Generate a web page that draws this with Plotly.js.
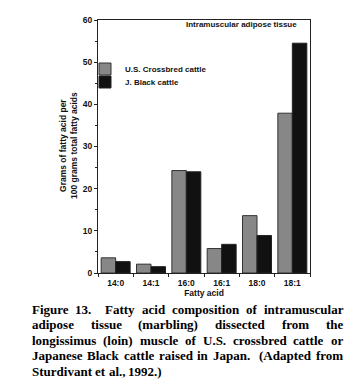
<!DOCTYPE html>
<html>
<head>
<meta charset="utf-8">
<script src="https://cdn.plot.ly/plotly-3.0.1.min.js"></script>
<style>html,body{margin:0;padding:0;background:#fff;}#chart{width:351px;height:390px;}</style>
</head>
<body>
<div id="chart"></div>
<script>
var categories = ["14:0", "14:1", "16:0", "16:1", "18:0", "18:1"];
var usCrossbred = [3.6, 2.1, 24.3, 5.8, 13.6, 37.9];
var jBlack = [2.7, 1.5, 24.0, 6.8, 8.9, 54.5];
var seriesNames = ["U.S. Crossbred cattle", "J. Black cattle"];
var yTicks = [0, 10, 20, 30, 40, 50, 60];
var panelLabel = "Intramuscular adipose tissue";
var yTitle = "Grams of fatty acid per<br>100 grams total fatty acids";
var xTitle = "Fatty acid";
var captionLines = [
  "Figure 13.  Fatty acid composition of intramuscular",
  "adipose tissue (marbling) dissected from the",
  "longissimus (loin) muscle of U.S. crossbred cattle or",
  "Japanese Black cattle raised in Japan.  (Adapted from",
  "Sturdivant et al., 1992.)"
];

var W = 351, H = 390;
var L = 98, R = 41, T = 20, B = 117;
var pw = W - L - R, ph = H - T - B;
function px2x(p) { return (p - L) / pw; }
function py2y(p) { return (H - B - p) / ph; }

var sans = "Liberation Sans, Arial, sans-serif";
var tf = {family: sans, size: 8.5, color: "#111", weight: "bold"};
var lf = {family: sans, size: 8, color: "#111", weight: "bold"};

var traces = [
  {type: "bar", name: seriesNames[0], x: categories, y: usCrossbred, legend: "legend",
   marker: {color: "#878787", line: {color: "#333", width: 1}}},
  {type: "bar", name: seriesNames[1], x: categories, y: jBlack, legend: "legend2",
   marker: {color: "#111111", line: {color: "#222", width: 1}}}
];

var annotations = [
  {xref: "paper", yref: "paper", x: px2x(298), y: py2y(24), xanchor: "right", yanchor: "middle",
   text: panelLabel, showarrow: false, font: lf, borderpad: 0},
  {xref: "paper", yref: "paper", x: px2x(68), y: py2y(146), xanchor: "center", yanchor: "middle",
   text: yTitle, textangle: -90, showarrow: false, font: tf, borderpad: 0}
];

// justified caption, word by word
var serifFamily = "Liberation Serif";
var capSize = 13;
var ctx = document.createElement("canvas").getContext("2d");
ctx.font = "bold " + capSize + "px '" + serifFamily + "'";
var capLeft = 31, capRight = 342;
var lineY = [309, 324.5, 340, 355.5, 371];
captionLines.forEach(function (line, i) {
  var toks = line.split(" ");
  var widths = toks.map(function (t) { return t ? ctx.measureText(t).width : 0; });
  var total = widths.reduce(function (a, b) { return a + b; }, 0);
  var last = i === captionLines.length - 1;
  var gap = last ? ctx.measureText(" ").width : (capRight - capLeft - total) / (toks.length - 1);
  var xpos = capLeft;
  toks.forEach(function (t, k) {
    if (t) {
      annotations.push({xref: "paper", yref: "paper", x: px2x(xpos), y: py2y(lineY[i]),
        xanchor: "left", yanchor: "middle", text: t, showarrow: false, borderpad: 0,
        font: {family: serifFamily + ", Times New Roman, serif", size: capSize, color: "#000", weight: "bold"}});
    }
    xpos += widths[k] + gap;
  });
});

var legBase = {xanchor: "left", yanchor: "middle", font: lf, bgcolor: "rgba(0,0,0,0)", itemwidth: 30};
var layout = {
  width: W, height: H,
  margin: {l: L, r: R, t: T, b: B, pad: 0},
  paper_bgcolor: "#fff", plot_bgcolor: "#fff",
  barmode: "group", bargap: 0.18, bargroupgap: 0,
  showlegend: true,
  legend: Object.assign({x: px2x(85), y: py2y(69)}, legBase),
  legend2: Object.assign({x: px2x(85), y: py2y(82)}, legBase),
  xaxis: {type: "category", range: [-0.5, 5.5], showline: true, linecolor: "#222", linewidth: 1,
          mirror: true, ticks: "outside", tickson: "boundaries", ticklen: 3, tickcolor: "#222",
          tickfont: tf, ticklabelstandoff: 2, showgrid: false, zeroline: false, fixedrange: true,
          title: {text: xTitle, font: tf, standoff: 2}},
  yaxis: {range: [0, 60], tickvals: yTicks, showline: true, linecolor: "#222", linewidth: 1,
          mirror: true, ticks: "outside", ticklen: 3, tickcolor: "#222", tickfont: tf,
          showgrid: false, zeroline: false, fixedrange: true,
          minor: {dtick: 5, ticks: "outside", ticklen: 2, tickcolor: "#222", showgrid: false}},
  annotations: annotations
};

Plotly.newPlot("chart", traces, layout, {displayModeBar: false, staticPlot: true});
</script>
</body>
</html>
